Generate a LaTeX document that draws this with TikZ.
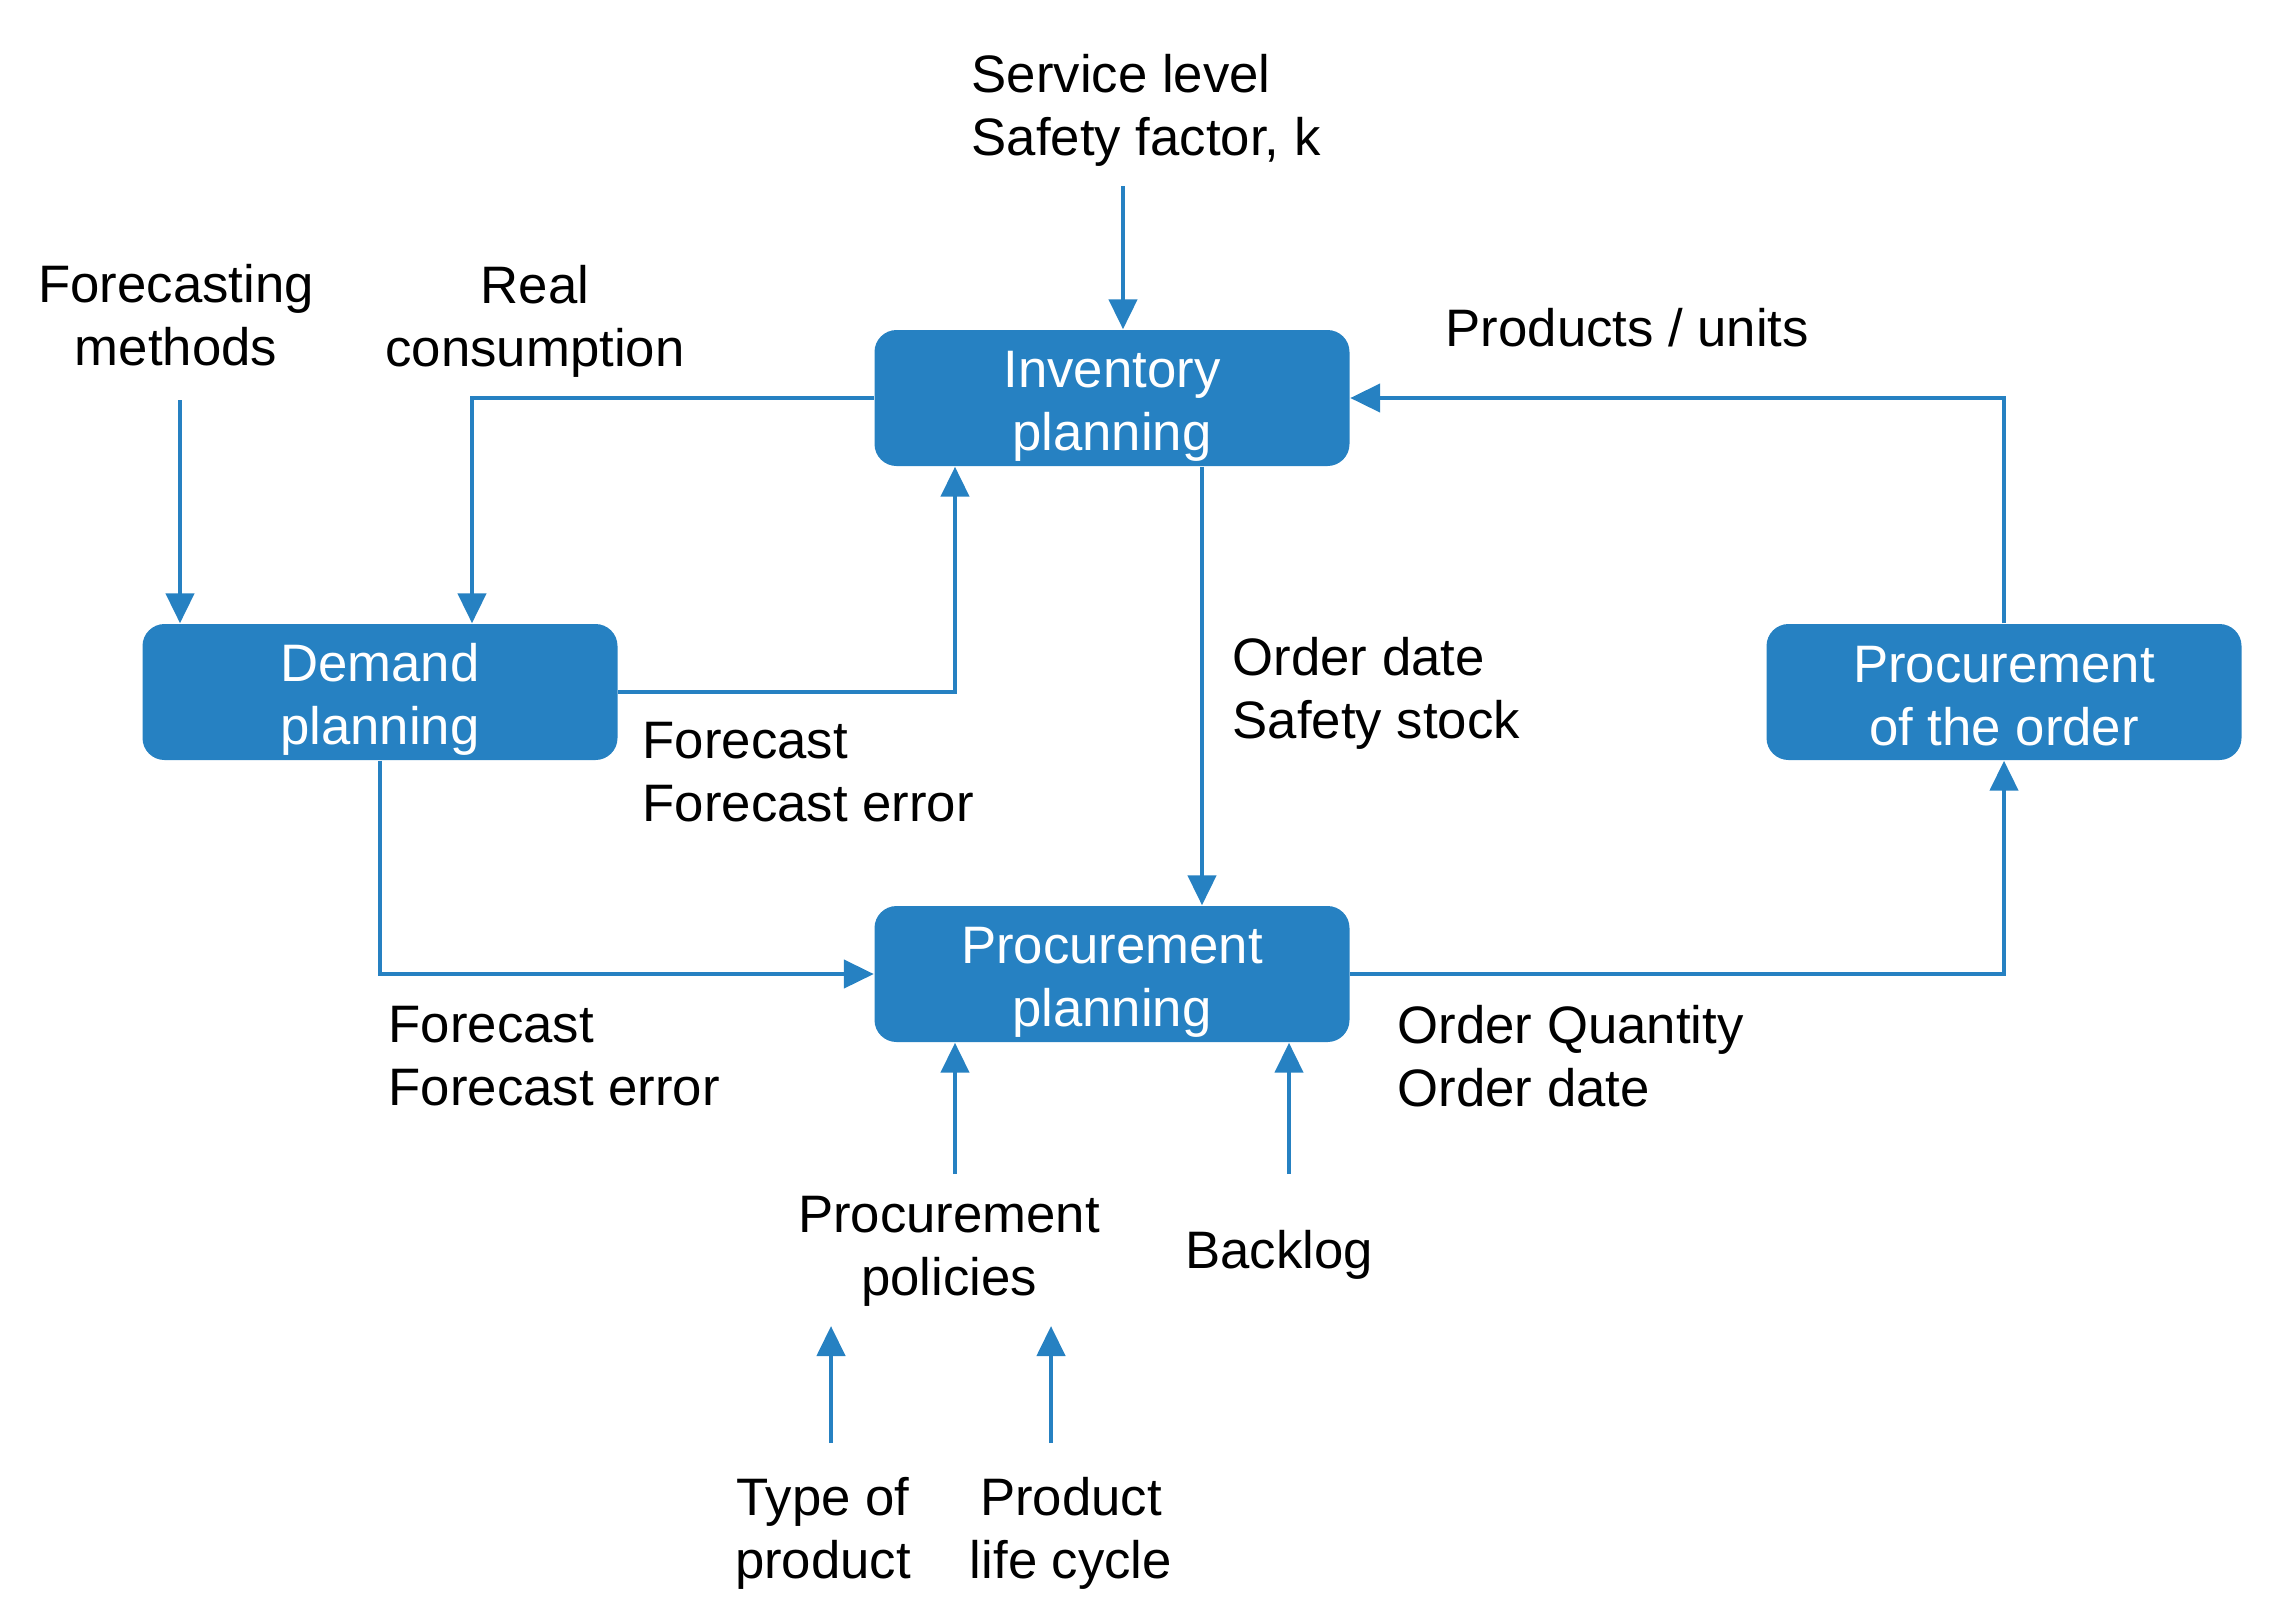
\documentclass[tikz,border=0pt]{standalone}
\usepackage{fontspec}
\setmainfont{Liberation Sans}
\usetikzlibrary{arrows.meta}
\definecolor{planFill}{HTML}{2681C2}
\definecolor{planLine}{HTML}{2681C2}
% Abstand ueber der ersten Zeile in den Planungsbausteinen
\newcommand{\planstrut}[1][15pt]{\rule{0pt}{#1}}
\tikzset{
  flowfig/.style={
    x=0.1mm, y=-0.1mm,
    every node/.append style={font=\fontsize{15}{17.9}\selectfont},
    >={Triangle[length=3mm, width=2.8mm]},
  },
  planbox/.style={
    fill=planFill, text=white, rounded corners=2.2mm, align=center,
    minimum width=47.5mm, minimum height=13.6mm, inner sep=0pt,
  },
  % Beschriftungen ohne Rahmen
  lbl/.style={align=center, inner sep=0pt},
  lblleft/.style={align=left, inner sep=0pt, anchor=west},
  flow/.style={draw=planLine, line width=0.45mm, ->},
}

\begin{document}
\begin{tikzpicture}[flowfig]
  \useasboundingbox (0,0) rectangle (2279,1623);
  % Planungsbausteine
  \node[planbox] (inv) at (1112,398) {\planstrut Inventory\\planning};
  \node[planbox] (dem) at (380,692) {\planstrut Demand\\planning};
  \node[planbox] (proc) at (1112,974) {\planstrut Procurement\\planning};
  \node[planbox] (ord) at (2004,692) {\planstrut[12.6pt]Procurement\\of the order};

  % Beschriftungen
  \node[lblleft] (svc) at (971,110) {Service level\\Safety factor, k};
  \node[lbl] (fcm) at (176,315) {Forecasting\\methods};
  \node[lbl] (real) at (535,321) {Real\\consumption};
  \node[lblleft] (units) at (1445,328) {Products / units};
  \node[lblleft] (fcup) at (642,772) {Forecast\\Forecast error};
  \node[lblleft] (ods) at (1232,693) {Order date\\Safety stock};
  \node[lblleft] (fclow) at (388,1056) {Forecast\\Forecast error};
  \node[lblleft] (oqd) at (1397,1056) {Order Quantity\\Order date};
  \node[lbl] (pol) at (949,1251) {Procurement\\policies};
  \node[lbl] (back) at (1279,1255) {Backlog};
  \node[lbl] (typ) at (823,1533) {Type of\\product};
  \node[lbl] (plc) at (1071,1533) {Product\\life cycle};

  % freie Pfeilenden
  \coordinate (svcfoot) at (1123,186);
  \coordinate (fcmfoot) at (180,400);
  \coordinate (polfoot) at (955,1174);
  \coordinate (backfoot) at (1289,1174);
  \coordinate (typfoot) at (831,1443);
  \coordinate (typtip) at (831,1326);
  \coordinate (plcfoot) at (1051,1443);
  \coordinate (plctip) at (1051,1326);

  \draw[flow] (svcfoot) -- (svcfoot |- inv.north);
  \draw[flow] (fcmfoot) -- (fcmfoot |- dem.north);
  \draw[flow] (inv.west) -| ([xshift=9.2mm]dem.north);
  \draw[flow] (dem.east) -| ([xshift=-15.7mm]inv.south);
  \draw[flow] ([xshift=9mm]inv.south) -- ([xshift=9mm]proc.north);
  \draw[flow] (ord.north) |- (inv.east);
  \draw[flow] (dem.south) |- (proc.west);
  \draw[flow] (proc.east) -| (ord.south);
  \draw[flow] (polfoot) -- (polfoot |- proc.south);
  \draw[flow] (backfoot) -- (backfoot |- proc.south);
  \draw[flow] (typfoot) -- (typtip);
  \draw[flow] (plcfoot) -- (plctip);
\end{tikzpicture}
\end{document}
